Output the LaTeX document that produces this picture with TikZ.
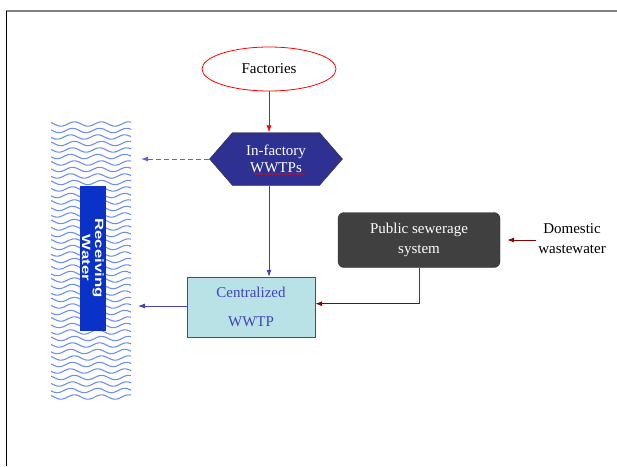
\documentclass[tikz,border=0pt]{standalone}
\usepackage{fontspec}
\setmainfont{Liberation Serif}
\newfontfamily\rwfont{Liberation Sans}[FakeStretch=1.4, BoldFeatures={FakeStretch=1.4}]
\usetikzlibrary{positioning}
\usetikzlibrary{arrows.meta}
\usetikzlibrary{shapes.geometric}
\usetikzlibrary{shapes.symbols}
\usetikzlibrary{decorations.pathmorphing}
\definecolor{wave}{HTML}{6E8FF0}
\definecolor{navy}{HTML}{2E3192}
\definecolor{rwblue}{HTML}{0A32C8}
\definecolor{flowblue}{HTML}{4343B4}
\definecolor{dashblue}{HTML}{6464CC}
\definecolor{darkred}{HTML}{8B0000}
\definecolor{sewer}{HTML}{404040}
\definecolor{plant}{HTML}{B9E2E6}

\begin{document}
\begin{tikzpicture}[x=1pt, y=-1pt,
                    every node/.style={font=\fontsize{15}{20}\selectfont, align=center, inner sep=0pt},
                    tip/.style={-{Latex[length=7pt, width=5pt]}},
                    flow/.style={draw=flowblue, line width=0.8pt, tip},
                    sewage/.style={draw=darkred, line width=0.8pt, tip}]

    \useasboundingbox (0,0) rectangle (617,466);
    \draw[gray, line width=1.5pt] (6,11) -- (617,11);
    \draw[line width=0.8pt] (6,11) -- (6,466);

    % receiving water
    \begin{scope}
        \clip (51,119) rectangle (131,399);
        \foreach \r in {0,...,42}
            \draw[wave, line width=1.1pt] plot[domain=51:131, samples=45, smooth]
                (\x, {124+6.5*\r+2.2*sin(13.3*\x+25*mod(\r,3))});
    \end{scope}
    \node[fill=rwblue, minimum width=26pt, minimum height=145pt] (rw) at (93,258) {};
    \node[rotate=-90, text=white, font=\rwfont\bfseries\fontsize{12}{13}\selectfont] at (rw) {Receiving\\Water};
    \coordinate (rwtop) at (141,159);
    \coordinate (rwmid) at (138,306);

    \node[ellipse, draw=red, line width=0.8pt, minimum width=134pt, minimum height=44pt] (fac) at (269,69) {Factories};

    \node[signal, signal to=west and east, signal pointer angle=98, fill=navy, draw=black!80,
          minimum width=133pt, minimum height=53pt, text=white,
          font=\fontsize{15}{17}\selectfont] (inf) at (276,159) {In-factory\\WWTPs};
    \draw[red, decorate, decoration={snake, amplitude=0.8pt, segment length=3pt}] (253,174) -- (305,174);

    \node[draw=flowblue, fill=plant, text=flowblue, minimum width=128pt, minimum height=60pt,
          font=\fontsize{15}{29}\selectfont] (cen) at (251,307) {Centralized\\WWTP};

    \node[draw=black!80, fill=sewer, rounded corners=6pt, text=white,
          minimum width=162pt, minimum height=55pt] (pub) at (419,240) {Public sewerage\\system};

    \node (dom) at (572,239) {Domestic\\wastewater};

    \draw[red, line width=0.8pt, tip] (fac.south) -- (fac.south |- inf.north);
    \draw[dashblue, line width=0.9pt, dash pattern=on 5pt off 3pt, tip] (inf.west) -- (rwtop);
    \draw[flow] (inf.south -| fac.south) -- (fac.south |- cen.north);
    \draw[flow] (cen.west |- rwmid) -- (rwmid);
    \draw[sewer, line width=0.8pt] (pub.south) -- ++(0,36) coordinate (bend);
    \draw[sewage] (bend) -- (cen.east |- bend);
    \draw[sewage, shorten >=7pt] (dom.west |- pub.east) ++(-2,0) -- (pub.east);

\end{tikzpicture}
\end{document}
